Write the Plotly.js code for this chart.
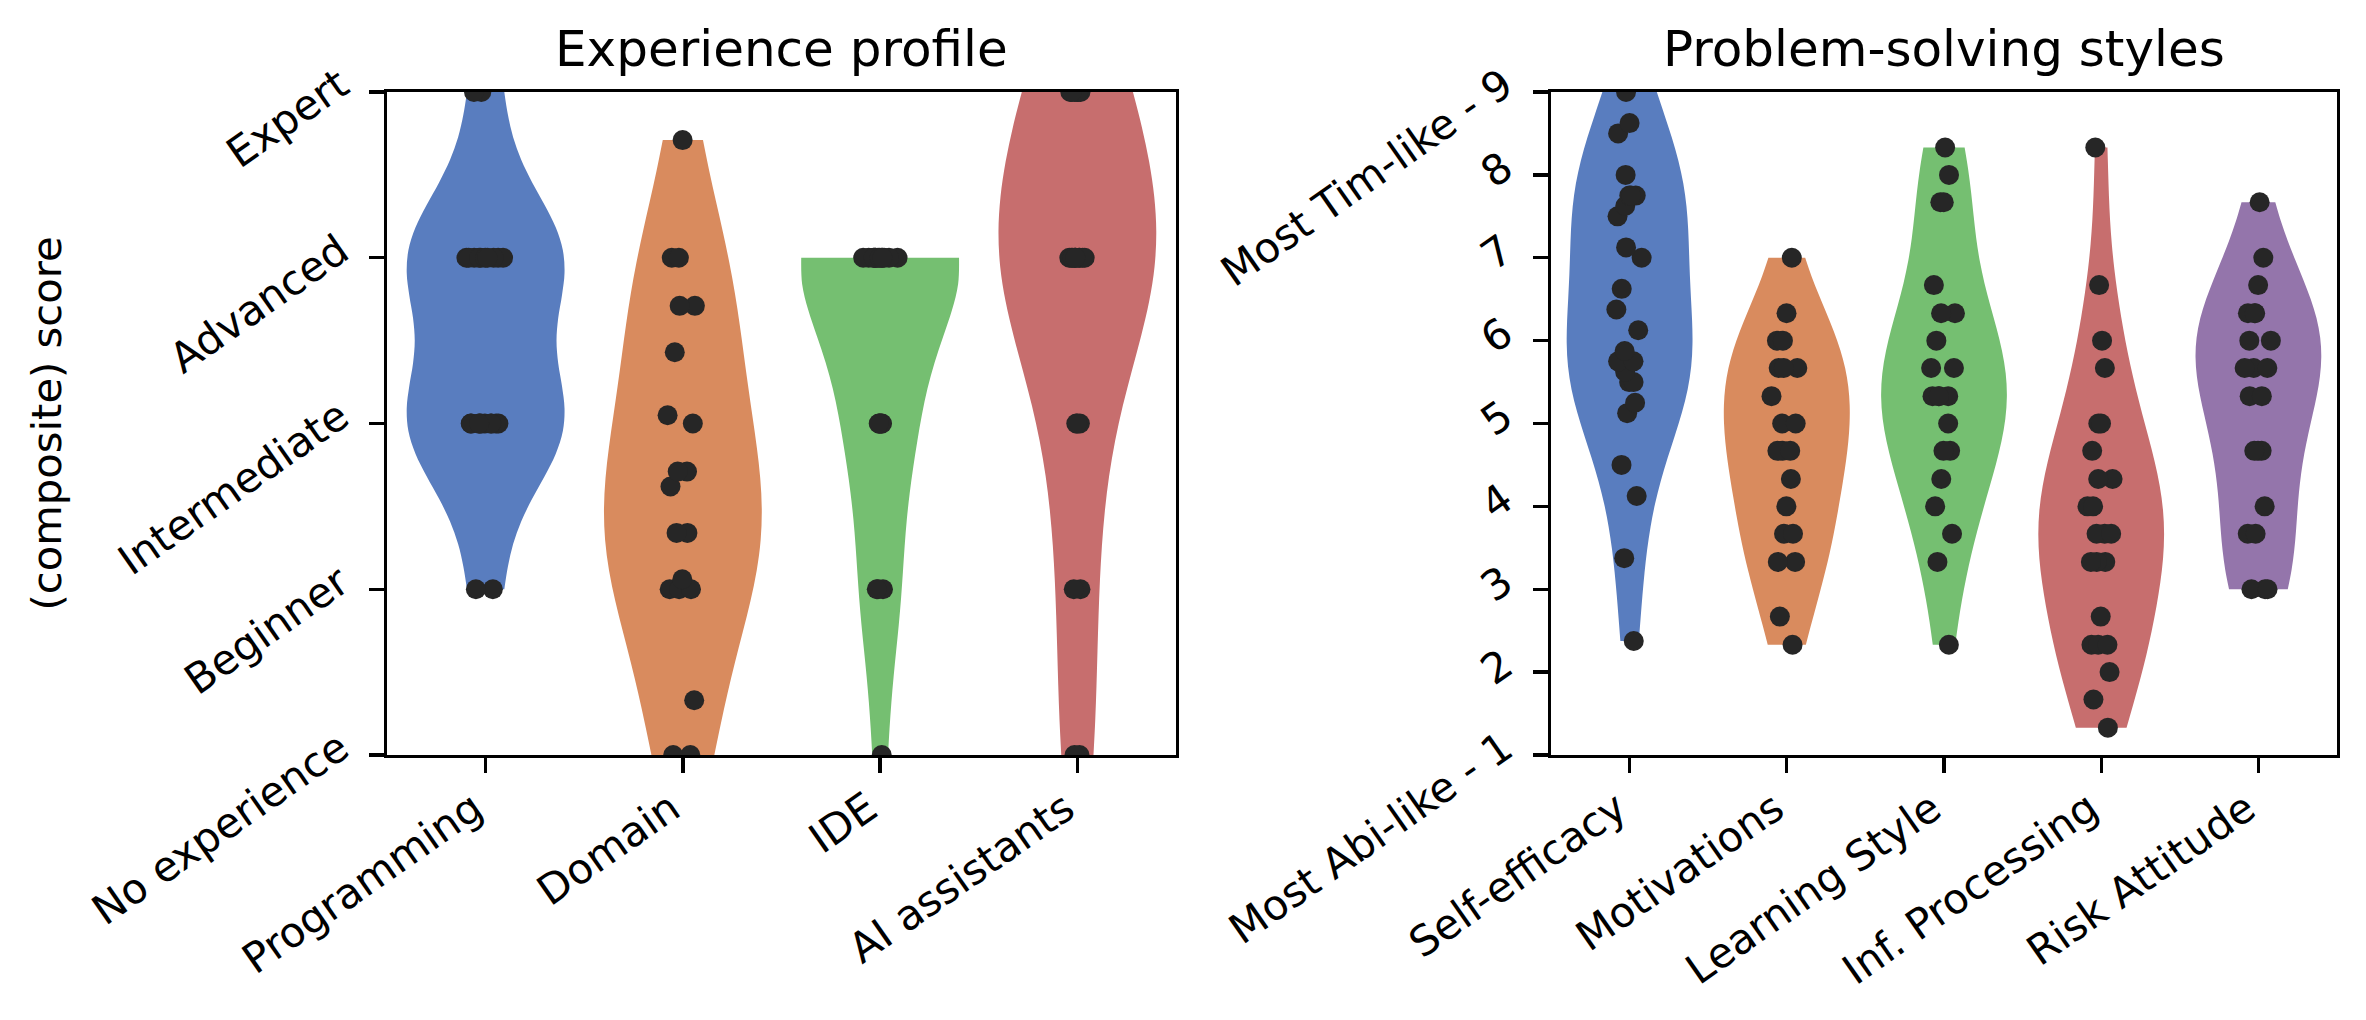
<!DOCTYPE html>
<html>
<head>
<meta charset="utf-8">
<script src="https://cdn.plot.ly/plotly-3.0.1.min.js"></script>
<style>html,body{margin:0;padding:0;background:#fff;}#chart{width:2366px;height:1020px;}</style>
</head>
<body>
<div id="chart"></div>
<script>
// ---------- data (overlapping dots estimated) ----------
const expCategories = ['Programming', 'Domain', 'IDE', 'AI assistants'];
const expTickVals = [0, 1, 2, 3, 4];
const expTickText = ['No experience', 'Beginner', 'Intermediate', 'Advanced', 'Expert'];

const programming = [4, 4, 3, 3, 3, 3, 3, 3, 3, 3, 3, 3, 2, 2, 2, 2, 2, 2, 2, 2, 2, 2, 1, 1];
const domain = [3.71, 3, 3, 2.71, 2.71, 2.43, 2.05, 2, 1.71, 1.71, 1.62, 1.34, 1.34, 1.06, 1, 1, 1, 0.33, 0, 0];
const ide = [3, 3, 3, 3, 3, 3, 3, 3, 3, 3, 3, 3, 3, 2, 2, 2, 2, 2, 1, 1, 1, 0];
const aiAssistants = [4, 4, 4, 4, 4, 4, 3, 3, 3, 3, 3, 3, 3, 3, 3, 3, 2, 2, 2, 1, 1, 0, 0];

const styleCategories = ['Self-efficacy', 'Motivations', 'Learning Style', 'Inf. Processing', 'Risk Attitude'];
const styleTickVals = [1, 2, 3, 4, 5, 6, 7, 8, 9];
const styleTickText = ['Most Abi-like - 1', '2', '3', '4', '5', '6', '7', '8', 'Most Tim-like - 9'];

const selfEfficacy = [9.0, 8.625, 8.5, 8.0, 7.75, 7.75, 7.75, 7.625, 7.5, 7.125, 7.0, 6.625, 6.375, 6.125, 5.875, 5.75, 5.75, 5.625, 5.5, 5.5, 5.25, 5.125, 4.5, 4.125, 3.375, 2.375];
const motivations = [7.0, 6.33, 6.0, 6.0, 5.67, 5.67, 5.67, 5.33, 5.0, 5.0, 4.67, 4.67, 4.67, 4.33, 4.0, 3.67, 3.67, 3.33, 3.33, 2.67, 2.33];
const learningStyle = [8.33, 8.0, 7.67, 7.67, 6.67, 6.33, 6.33, 6.0, 5.67, 5.67, 5.33, 5.33, 5.33, 5.33, 5.0, 4.67, 4.67, 4.33, 4.0, 3.67, 3.33, 2.33];
const infProcessing = [8.33, 6.67, 6.0, 5.67, 5.0, 5.0, 4.67, 4.33, 4.33, 4.0, 4.0, 3.67, 3.67, 3.67, 3.33, 3.33, 3.33, 2.67, 2.33, 2.33, 2.33, 2.0, 1.67, 1.33];
const riskAttitude = [7.67, 7.0, 6.67, 6.33, 6.33, 6.33, 6.0, 6.0, 5.67, 5.67, 5.67, 5.33, 5.33, 4.67, 4.67, 4.67, 4.0, 3.67, 3.67, 3.0, 3.0, 3.0];

const palette = ['#597dbf', '#d98b5e', '#75bf71', '#c76e6e', '#9475ab'];

// ---------- helpers ----------
function scottBandwidth(arr) {
  const n = arr.length;
  const mean = arr.reduce((a, b) => a + b, 0) / n;
  const v = arr.reduce((a, b) => a + (b - mean) * (b - mean), 0) / (n - 1);
  return Math.sqrt(v) * Math.pow(n, -0.2);
}

const FONT = 'DejaVu Sans, Liberation Sans, sans-serif';
const TICK = 41.7;

function violin(values, cat, color, xa, ya) {
  return {
    type: 'violin',
    x: values.map(() => cat),
    y: values,
    xaxis: xa, yaxis: ya,
    fillcolor: color,
    line: {width: 0, color: color},
    points: 'all',
    jitter: 0.25,
    pointpos: 0,
    marker: {color: '#262626', size: 20, line: {width: 0}},
    spanmode: 'hard',
    bandwidth: scottBandwidth(values),
    scalemode: 'width',
    width: 0.8,
    box: {visible: false},
    meanline: {visible: false},
    showlegend: false,
    hoverinfo: 'skip'
  };
}

const expSeries = [programming, domain, ide, aiAssistants];
const styleSeries = [selfEfficacy, motivations, learningStyle, infProcessing, riskAttitude];

const traces = [];
expSeries.forEach((s, i) => traces.push(violin(s, expCategories[i], palette[i], 'x', 'y')));
styleSeries.forEach((s, i) => traces.push(violin(s, styleCategories[i], palette[i], 'x2', 'y2')));

const W = 2366, H = 1020;
const axTop = 92, axBot = 755;
const yDom = [(H - axBot) / H, (H - axTop) / H];
const x1Dom = [387 / W, 1176 / W];
const x2Dom = [1551 / W, 2337 / W];

function baseAxis() {
  return {
    showline: true, linewidth: 3.3, linecolor: '#000', mirror: true,
    ticks: 'outside', ticklen: 14.6, tickwidth: 3.3, tickcolor: '#000',
    showgrid: false, zeroline: false, automargin: false,
    tickfont: {family: FONT, size: TICK, color: '#000'},
    tickangle: -35
  };
}

const xLabelPos = {ticklabelstandoff: -5, ticklabelshift: -12};
const yLabelPos = {ticklabelstandoff: 21, ticklabelshift: -12};

const layout = {
  width: W, height: H,
  margin: {l: 0, r: 0, t: 0, b: 0},
  paper_bgcolor: '#fff', plot_bgcolor: '#fff',
  violinmode: 'overlay',
  font: {family: FONT, color: '#000'},
  xaxis: Object.assign(baseAxis(), xLabelPos, {domain: x1Dom, anchor: 'y', type: 'category',
    categoryorder: 'array', categoryarray: expCategories, range: [-0.5, 3.5]}),
  yaxis: Object.assign(baseAxis(), yLabelPos, {domain: yDom, anchor: 'x', range: [0, 4],
    tickmode: 'array', tickvals: expTickVals, ticktext: expTickText}),
  xaxis2: Object.assign(baseAxis(), xLabelPos, {domain: x2Dom, anchor: 'y2', type: 'category',
    categoryorder: 'array', categoryarray: styleCategories, range: [-0.5, 4.5]}),
  yaxis2: Object.assign(baseAxis(), yLabelPos, {domain: yDom, anchor: 'x2', range: [1, 9],
    tickmode: 'array', tickvals: styleTickVals, ticktext: styleTickText}),
  annotations: [
    {text: 'Experience profile', xref: 'paper', yref: 'paper',
     x: (x1Dom[0] + x1Dom[1]) / 2, y: yDom[1], xanchor: 'center', yanchor: 'bottom', yshift: 12,
     showarrow: false, font: {family: FONT, size: 50, color: '#000'}},
    {text: 'Problem-solving styles', xref: 'paper', yref: 'paper',
     x: (x2Dom[0] + x2Dom[1]) / 2, y: yDom[1], xanchor: 'center', yanchor: 'bottom', yshift: 12,
     showarrow: false, font: {family: FONT, size: 50, color: '#000'}},
    {text: '(composite) score', xref: 'paper', yref: 'paper',
     x: 46 / W, y: (yDom[0] + yDom[1]) / 2, xanchor: 'center', yanchor: 'middle', textangle: -90,
     showarrow: false, font: {family: FONT, size: TICK, color: '#000'}}
  ]
};

Plotly.newPlot('chart', traces, layout, {staticPlot: true, displayModeBar: false});
</script>
</body>
</html>
